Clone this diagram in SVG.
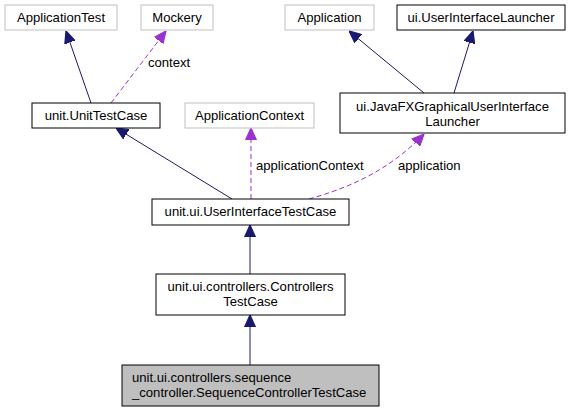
<svg xmlns="http://www.w3.org/2000/svg" width="571" height="412" viewBox="0 0 571 412">
<style>
text{font-family:"Liberation Sans",Arial,sans-serif;font-size:13.1px;fill:#000}
.c{text-anchor:middle}
.grey{fill:#fff;stroke:#bfbfbf;stroke-width:1}
.doc{fill:#fff;stroke:#000;stroke-width:1}
.cur{fill:#bfbfbf;stroke:#000;stroke-width:1}
.inh{fill:none;stroke:#191970;stroke-width:1}
.use{fill:none;stroke:#9a32cd;stroke-width:1;stroke-dasharray:5,3}
</style>
<defs>
<marker id="ab" viewBox="0 0 10 10" refX="10" refY="5" markerWidth="12" markerHeight="12" markerUnits="userSpaceOnUse" orient="auto"><path d="M0,0.5 L10,5 L0,9.5 Z" fill="#191970" stroke="#191970"/></marker>
<marker id="ap" viewBox="0 0 10 10" refX="10" refY="5" markerWidth="12" markerHeight="12" markerUnits="userSpaceOnUse" orient="auto"><path d="M0,0.5 L10,5 L0,9.5 Z" fill="#9a32cd" stroke="#9a32cd"/></marker>
</defs>
<g id="edges">
<path class="inh" d="M91,103 L66,31" marker-end="url(#ab)"/>
<path class="use" d="M111,103 L166,31" marker-end="url(#ap)"/>
<text x="148" y="67">context</text>
<path class="inh" d="M232,199 L116,128" marker-end="url(#ab)"/>
<path class="use" d="M251,199 L251,128" marker-end="url(#ap)"/>
<text x="256" y="170">applicationContext</text>
<path class="use" d="M309,199 C345,189 388,172 424,134" marker-end="url(#ap)"/>
<text x="398" y="170">application</text>
<path class="inh" d="M424,93 L349,31" marker-end="url(#ab)"/>
<path class="inh" d="M454,93 L473,31" marker-end="url(#ab)"/>
<path class="inh" d="M250,274 L250,225" marker-end="url(#ab)"/>
<path class="inh" d="M250,365 L250,315" marker-end="url(#ab)"/>
</g>
<g id="ApplicationTest"><rect class="grey" x="5" y="5" width="112" height="25"/><text class="c" x="61" y="22">ApplicationTest</text></g>
<g id="Mockery"><rect class="grey" x="141" y="5" width="72" height="25"/><text class="c" x="177" y="22">Mockery</text></g>
<g id="Application"><rect class="grey" x="285" y="5" width="89" height="25"/><text class="c" x="329.5" y="22">Application</text></g>
<g id="UserInterfaceLauncher"><rect class="doc" x="397" y="5" width="168" height="25"/><text class="c" x="481" y="22">ui.UserInterfaceLauncher</text></g>
<g id="UnitTestCase"><rect class="doc" x="32" y="103" width="128" height="25"/><text class="c" x="96" y="120">unit.UnitTestCase</text></g>
<g id="ApplicationContext"><rect class="grey" x="185" y="103" width="129" height="25"/><text class="c" x="249.5" y="120">ApplicationContext</text></g>
<g id="JavaFXLauncher"><rect class="doc" x="340" y="93" width="225" height="40"/><text class="c" x="452.5" y="111">ui.JavaFXGraphicalUserInterface</text><text class="c" x="452.5" y="126">Launcher</text></g>
<g id="UserInterfaceTestCase"><rect class="doc" x="152" y="199" width="197" height="26"/><text class="c" x="250.5" y="216">unit.ui.UserInterfaceTestCase</text></g>
<g id="ControllersTestCase"><rect class="doc" x="156" y="274" width="189" height="41"/><text class="c" x="250.5" y="291">unit.ui.controllers.Controllers</text><text class="c" x="250.5" y="306">TestCase</text></g>
<g id="SequenceControllerTestCase"><rect class="cur" x="122" y="365" width="257" height="41"/><text x="132" y="382">unit.ui.controllers.sequence</text><text x="132" y="397">_controller.SequenceControllerTestCase</text></g>
</svg>
